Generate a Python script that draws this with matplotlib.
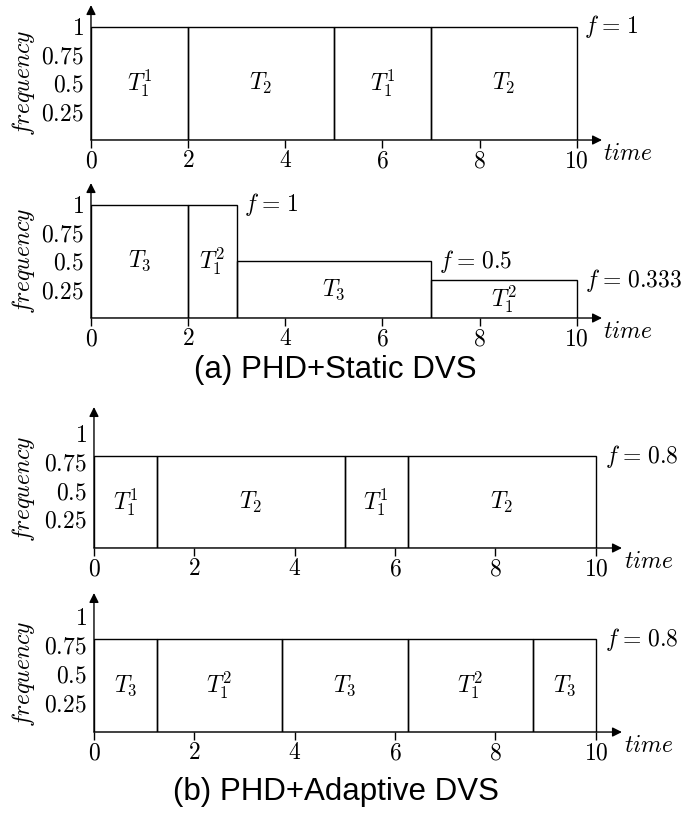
import matplotlib
matplotlib.use("Agg")
import matplotlib.pyplot as plt

plt.rcParams['mathtext.fontset'] = 'cm'
plt.rcParams['font.family'] = ['Liberation Sans', 'DejaVu Sans']

# segment start, length, frequency, task label for each schedule
p1_start = [0, 2, 5, 7]
p1_len = [2, 3, 2, 3]
p1_freq = [1, 1, 1, 1]
p1_task = ['$T_1^1$', '$T_2$', '$T_1^1$', '$T_2$']

p2_start = [0, 2, 3, 7]
p2_len = [2, 1, 4, 3]
p2_freq = [1, 1, 0.5, 0.333]
p2_task = ['$T_3$', '$T_1^2$', '$T_3$', '$T_1^2$']

p3_start = [0, 1.25, 5, 6.25]
p3_len = [1.25, 3.75, 1.25, 3.75]
p3_freq = [0.8, 0.8, 0.8, 0.8]
p3_task = ['$T_1^1$', '$T_2$', '$T_1^1$', '$T_2$']

p4_start = [0, 1.25, 3.75, 6.25, 8.75]
p4_len = [1.25, 2.5, 2.5, 2.5, 1.25]
p4_freq = [0.8, 0.8, 0.8, 0.8, 0.8]
p4_task = ['$T_3$', '$T_1^2$', '$T_3$', '$T_1^2$', '$T_3$']

x_ticks = [0, 2, 4, 6, 8, 10]
y_ticks = [0.25, 0.5, 0.75, 1]
y_ticklabels = ['$0.25$', '$0.5$', '$0.75$', '$1$']

# f = ... annotations: (x, y, value text)
p1_notes = [(10.14, 1.0, '1')]
p2_notes = [(3.14, 1.0, '1'), (7.16, 0.5, '0.5'), (10.16, 0.333, '0.333')]
p3_notes = [(10.18, 0.8, '0.8')]
p4_notes = [(10.18, 0.8, '0.8')]

FS = 17


def draw_panel(fig, rect, ytop, starts, lens, freqs, tasks, notes):
    ax = fig.add_axes(rect)
    ax.bar(starts, freqs, width=lens, align='edge', fill=False,
           edgecolor='black', linewidth=1.0)
    for s, w, f, t in zip(starts, lens, freqs, tasks):
        ax.text(s + w / 2, f / 2, t, ha='center', va='center', fontsize=FS)
    for x, y, t in notes:
        label = r'$f\hspace{0.1}=\hspace{0.1}%s$' % t
        ax.text(x, y, label, ha='left', va='center', fontsize=FS, clip_on=False)
    ax.set_xlim(0, 10.52)
    ax.set_ylim(0, ytop)
    for sp in ax.spines.values():
        sp.set_visible(False)
    ax.annotate('', xy=(1, 0), xytext=(0, 0), xycoords='axes fraction',
                arrowprops=dict(arrowstyle='-|>', color='black', lw=1.0,
                                mutation_scale=14, shrinkA=0, shrinkB=0))
    ax.annotate('', xy=(0, 1), xytext=(0, 0), xycoords='axes fraction',
                arrowprops=dict(arrowstyle='-|>', color='black', lw=1.0,
                                mutation_scale=14, shrinkA=0, shrinkB=0))
    ax.set_xticks(x_ticks)
    ax.set_xticklabels(['$%d$' % v for v in x_ticks], fontsize=FS)
    ax.set_yticks(y_ticks)
    ax.set_yticklabels(y_ticklabels, fontsize=FS)
    ax.tick_params(axis='x', direction='out', length=5.5, width=1, pad=2)
    ax.tick_params(axis='y', length=0, pad=5)
    ax.text(-0.133, 0.42, '$frequency$', rotation=90, ha='center', va='center',
            fontsize=FS, transform=ax.transAxes)
    ax.text(11.06, -0.12, '$time$', ha='center', va='center',
            fontsize=FS, clip_on=False)
    return ax


fig = plt.figure(figsize=(6.81, 8.15), dpi=100)

draw_panel(fig, [0.1336, 0.8282, 0.7504, 0.1656], 1.19,
           p1_start, p1_len, p1_freq, p1_task, p1_notes)
draw_panel(fig, [0.1336, 0.6098, 0.7504, 0.1656], 1.19,
           p2_start, p2_len, p2_freq, p2_task, p2_notes)
draw_panel(fig, [0.1380, 0.3276, 0.7753, 0.1730], 1.226,
           p3_start, p3_len, p3_freq, p3_task, p3_notes)
draw_panel(fig, [0.1380, 0.1018, 0.7753, 0.1706], 1.20,
           p4_start, p4_len, p4_freq, p4_task, p4_notes)

fig.text(0.492, 0.546, '(a) PHD+Static DVS', ha='center', va='center', fontsize=22.5)
fig.text(0.493, 0.028, '(b) PHD+Adaptive DVS', ha='center', va='center', fontsize=22.5)

fig.savefig('out.png', dpi=100)
